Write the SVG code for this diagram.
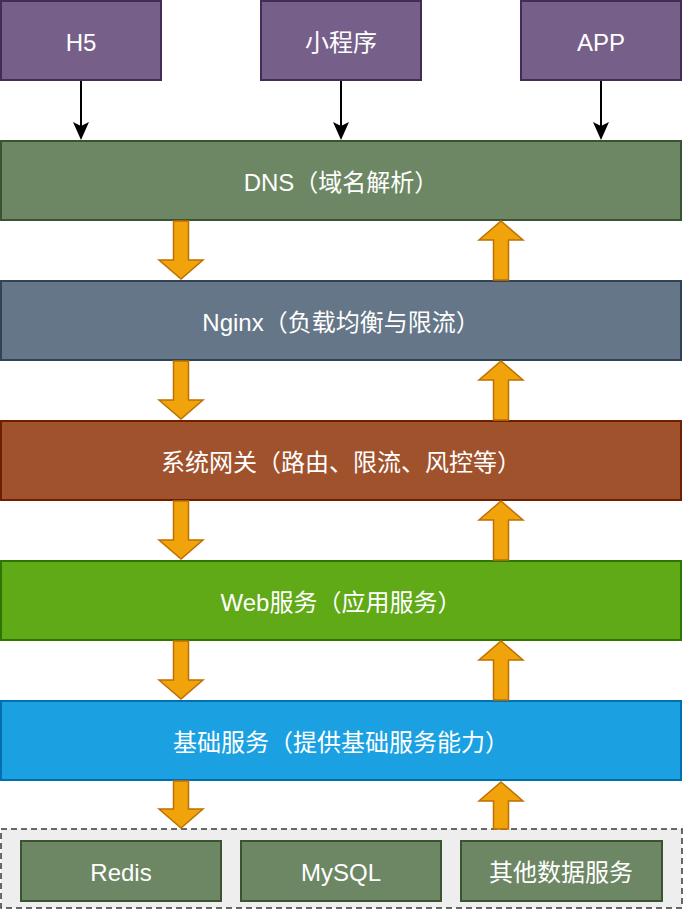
<svg xmlns="http://www.w3.org/2000/svg" width="684" height="912" viewBox="0 0 684 912">
  <style>
    .lbl { font-family: "Liberation Sans", "Noto Sans CJK SC", sans-serif; font-size: 24px; fill: #ffffff; text-anchor: middle; dominant-baseline: central; }
    .client { fill: #76608a; stroke: #432d57; stroke-width: 2; }
    .green { fill: #6d8764; stroke: #3a5431; stroke-width: 2; }
    .fat { fill: #f0a30a; stroke: #bd7000; stroke-width: 1.5; stroke-linejoin: miter; }
    .line { stroke: #000000; stroke-width: 2; fill: none; }
  </style>
  <rect width="684" height="912" fill="#ffffff"/>

  <g id="h5"><rect class="client" x="1" y="1" width="160" height="79"/><text class="lbl" x="81" y="42">H5</text></g>
  <g id="miniprogram"><rect class="client" x="261" y="1" width="160" height="79"/><text class="lbl" x="341" y="42">小程序</text></g>
  <g id="app"><rect class="client" x="521" y="1" width="160" height="79"/><text class="lbl" x="601" y="42">APP</text></g>

  <g id="dns"><rect class="green" x="1" y="141" width="680" height="79"/><text class="lbl" x="341" y="182">DNS（域名解析）</text></g>
  <g id="nginx"><rect x="1" y="281" width="680" height="79" fill="#647687" stroke="#314354" stroke-width="2"/><text class="lbl" x="341" y="322">Nginx（负载均衡与限流）</text></g>
  <g id="gateway"><rect x="1" y="421" width="680" height="79" fill="#a0522d" stroke="#6d1f00" stroke-width="2"/><text class="lbl" x="341" y="462">系统网关（路由、限流、风控等）</text></g>
  <g id="web"><rect x="1" y="561" width="680" height="79" fill="#60a917" stroke="#2d7600" stroke-width="2"/><text class="lbl" x="341" y="602">Web服务（应用服务）</text></g>
  <g id="base"><rect x="1" y="701" width="680" height="79" fill="#1ba1e2" stroke="#006eaf" stroke-width="2"/><text class="lbl" x="341" y="742">基础服务（提供基础服务能力）</text></g>

  <g id="storage">
    <rect x="1" y="829" width="681" height="79" fill="#eeeeee" stroke="#36393d" stroke-width="1.5" stroke-dasharray="6 4"/>
  </g>
  <g id="redis"><rect class="green" x="21" y="841" width="200" height="60"/><text class="lbl" x="121" y="872">Redis</text></g>
  <g id="mysql"><rect class="green" x="241" y="841" width="200" height="60"/><text class="lbl" x="341" y="872">MySQL</text></g>
  <g id="otherdata"><rect class="green" x="461" y="841" width="201" height="60"/><text class="lbl" x="561" y="872">其他数据服务</text></g>

  <g id="connectors">
    <line class="line" x1="81" y1="81" x2="81" y2="127"/>
    <path d="M81,140 L73,122 L81,126 L89,122 Z" fill="#000"/>
    <line class="line" x1="341" y1="81" x2="341" y2="127"/>
    <path d="M341,140 L333,122 L341,126 L349,122 Z" fill="#000"/>
    <line class="line" x1="601" y1="81" x2="601" y2="127"/>
    <path d="M601,140 L593,122 L601,126 L609,122 Z" fill="#000"/>

    <path class="fat" d="M173.5,221 H188.5 V260 H203 L181,279 L159,260 H173.5 Z"/>
    <path class="fat" d="M501,221 L523,240 H508.5 V280 H493.5 V240 H479 Z"/>

    <path class="fat" d="M173.5,361 H188.5 V400 H203 L181,419 L159,400 H173.5 Z"/>
    <path class="fat" d="M501,361 L523,380 H508.5 V420 H493.5 V380 H479 Z"/>

    <path class="fat" d="M173.5,501 H188.5 V540 H203 L181,559 L159,540 H173.5 Z"/>
    <path class="fat" d="M501,501 L523,520 H508.5 V560 H493.5 V520 H479 Z"/>

    <path class="fat" d="M173.5,641 H188.5 V680 H203 L181,699 L159,680 H173.5 Z"/>
    <path class="fat" d="M501,641 L523,660 H508.5 V700 H493.5 V660 H479 Z"/>

    <path class="fat" d="M173.5,781 H188.5 V809 H203 L181,828 L159,809 H173.5 Z"/>
    <path class="fat" d="M501,782 L523,801 H508.5 V829 H493.5 V801 H479 Z"/>
  </g>
</svg>
